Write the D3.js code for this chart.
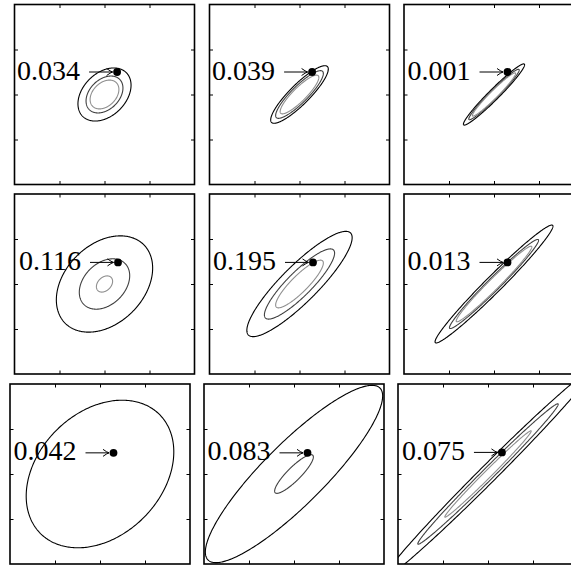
<!DOCTYPE html>
<html><head><meta charset="utf-8">
<script src="https://cdn.jsdelivr.net/npm/d3@7"></script>
<style>body{margin:0;background:#fff}svg{display:block}</style>
</head><body>
<script>
// Value printed beside the marked point in each panel (row by row)
const labels = ["0.034", "0.039", "0.001", "0.116", "0.195", "0.013", "0.042", "0.083", "0.075"];
// Correlation of each bivariate normal
const rhos = [0.35, 0.88, 0.97, 0.33, 0.88, 0.98, 0.30, 0.88, 0.993];
// Contour half-widths (data units), outermost first
const contourRadii = [
  [0.59, 0.41, 0.32],
  [0.64, 0.53, 0.43],
  [0.68, 0.56, 0.48],
  [1.07, 0.56, 0.18],
  [1.17, 0.78, 0.53],
  [1.31, 0.99, 0.84],
  [1.64],
  [1.97, 0.43],
  [2.30, 1.56, 0.96]
];
// The marked point in each panel
const pointX = [0.28, 0.28, 0.30, 0.30, 0.30, 0.30, 0.30, 0.30, 0.31];
const pointY = [0.50, 0.50, 0.50, 0.48, 0.48, 0.48, 0.47, 0.47, 0.48];
const tickValues = [-1, 0, 1];
const axisDomain = [-2, 2];

const W = 571, H = 565, S = 180;
const colX = [[14.5, 209.5, 404], [14.5, 209.5, 404], [10, 204, 398]];
const rowY = [4.5, 194, 384];
const contourColors = ["#000000", "#404040", "#909090"];

const svg = d3.select("body").append("svg").attr("width", W).attr("height", H);

const x = d3.scaleLinear().domain(axisDomain).range([0, S]);
const y = d3.scaleLinear().domain(axisDomain).range([S, 0]);

function ellipsePoints(r, rho) {
  const k = Math.sqrt(1 - rho * rho);
  return d3.range(0, 360).map(i => {
    const t = i / 360 * 2 * Math.PI;
    return [r * Math.cos(t), r * (rho * Math.cos(t) + k * Math.sin(t))];
  });
}
const line = d3.line().x(d => x(d[0])).y(d => y(d[1])).curve(d3.curveLinearClosed);

labels.forEach((lab, i) => {
  const row = Math.floor(i / 3), col = i % 3;
  const g = svg.append("g").attr("transform", `translate(${colX[row][col]},${rowY[row]})`);

  g.append("clipPath").attr("id", "clip" + i)
    .append("rect").attr("width", S).attr("height", S);

  const cg = g.append("g").attr("clip-path", `url(#clip${i})`);
  contourRadii[i].forEach((r, j) => {
    cg.append("path")
      .attr("d", line(ellipsePoints(r, rhos[i])))
      .attr("fill", "none")
      .attr("stroke", contourColors[j])
      .attr("stroke-width", 1.1);
  });

  // inward ticks on all four sides
  const tl = 3.5;
  g.append("g").call(d3.axisTop(x).tickValues(tickValues).tickSize(-tl).tickFormat(""));
  g.append("g").attr("transform", `translate(0,${S})`)
    .call(d3.axisBottom(x).tickValues(tickValues).tickSize(-tl).tickFormat(""));
  g.append("g").call(d3.axisLeft(y).tickValues(tickValues).tickSize(-tl).tickFormat(""));
  g.append("g").attr("transform", `translate(${S},0)`)
    .call(d3.axisRight(y).tickValues(tickValues).tickSize(-tl).tickFormat(""));
  g.selectAll(".domain").remove();
  g.selectAll(".tick line").attr("stroke", "#000").attr("stroke-width", 1);

  g.append("rect").attr("width", S).attr("height", S)
    .attr("fill", "none").attr("stroke", "#000").attr("stroke-width", 1.6);

  // marked point, arrow and value
  const px = x(pointX[i]), py = y(pointY[i]);
  const ax0 = px - 28, ax1 = px - 4.5;
  g.append("line").attr("x1", ax0).attr("x2", ax1).attr("y1", py).attr("y2", py)
    .attr("stroke", "#000").attr("stroke-width", 1);
  g.append("path")
    .attr("d", `M${ax1 - 6},${py - 3.5} Q${ax1 - 2},${py - 0.6} ${ax1},${py} Q${ax1 - 2},${py + 0.6} ${ax1 - 6},${py + 3.5}`)
    .attr("fill", "none").attr("stroke", "#000").attr("stroke-width", 1);
  g.append("circle").attr("cx", px).attr("cy", py).attr("r", 3.9).attr("fill", "#000");
  g.append("text").attr("x", px - 37).attr("y", py + 7.5)
    .attr("text-anchor", "end")
    .attr("font-family", "'Liberation Serif', 'DejaVu Serif', serif")
    .attr("font-size", 28)
    .attr("fill", "#000")
    .text(lab);
});
</script>
</body></html>
